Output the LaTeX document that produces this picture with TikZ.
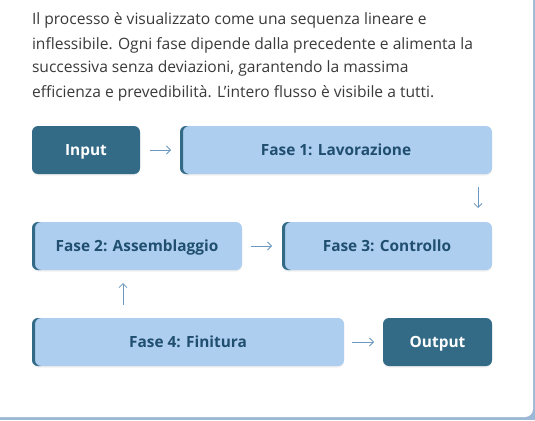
\documentclass[tikz,border=0pt]{standalone}
\usepackage{fontspec}
\setmainfont{Open Sans}
\definecolor{darkc}{HTML}{336B87}
\definecolor{lightc}{HTML}{AECEF0}
\definecolor{ltext}{HTML}{1F4E6E}
\definecolor{arrc}{HTML}{6A98C0}
\definecolor{paratext}{HTML}{3A3A3A}
\definecolor{bgc}{HTML}{9DB8D6}
\usetikzlibrary{arrows.meta,shadows}
\tikzset{
  every node/.style={inner sep=0pt, outer sep=0pt},
  softshadow/.style={drop shadow={opacity=0.12, shadow xshift=0pt, shadow yshift=-1.5pt}},
  darkbox/.style={rounded corners=6pt, fill=darkc, text=white, minimum height=48pt,
    text height=12pt, text depth=1pt, softshadow,
    font=\fontsize{15.4}{18}\selectfont\bfseries},
  lightbox/.style={rounded corners=6pt, fill=lightc, text=ltext, minimum height=48pt,
    text height=12pt, text depth=1pt, softshadow,
    font=\fontsize{15.4}{18}\selectfont\bfseries,
    path picture={
      \fill[darkc, sharp corners]
        ([shift={(-2pt,-2pt)}]path picture bounding box.south west)
        -- ([shift={(9pt,-2pt)}]path picture bounding box.south west)
        -- ([xshift=9pt]path picture bounding box.south west)
        arc[start angle=270, end angle=180, radius=6pt]
        -- ([shift={(3pt,-6pt)}]path picture bounding box.north west)
        arc[start angle=180, end angle=90, radius=6pt]
        -- ([shift={(9pt,2pt)}]path picture bounding box.north west)
        -- ([shift={(-2pt,2pt)}]path picture bounding box.north west)
        -- cycle;}},
  arr/.style={draw=arrc, line width=0.8pt, -{Straight Barb[length=4pt,width=8pt]}},
  para/.style={anchor=base west, text=paratext, font=\fontsize{15.6}{18}\selectfont}
}
\begin{document}
\begin{tikzpicture}[x=1pt,y=-1pt]
\useasboundingbox (0,0) rectangle (535,420);
\fill[bgc] (0,0) rectangle (535,420);
\begin{scope}
\clip (0,0) rectangle (535,420);
\fill[white, rounded corners=8pt] (-20,-20) rectangle (533,417);
\end{scope}
\node[para] (p1) at (32,25) {Il processo è visualizzato come una sequenza lineare e};
\node[para] (p2) at (32,49) {inflessibile. Ogni fase dipende dalla precedente e alimenta la};
\node[para] (p3) at (32,73) {successiva senza deviazioni, garantendo la massima};
\node[para] (p4) at (32,97) {efficienza e prevedibilità. L'intero flusso è visibile a tutti.};

\node[darkbox, minimum width=108pt] (in) at (86,150) {Input};
\node[lightbox, minimum width=312pt] (f1) at (336,150) {Fase 1: Lavorazione};
\node[lightbox, minimum width=210pt] (f2) at (137,246) {Fase 2: Assemblaggio};
\node[lightbox, minimum width=210pt] (f3) at (387,246) {Fase 3: Controllo};
\node[lightbox, minimum width=312pt] (f4) at (188,342) {Fase 4: Finitura};
\node[darkbox, minimum width=109pt] (out) at (437.5,342) {Output};

\draw[arr] ([xshift=10pt]in.east) -- ([xshift=-9pt]f1.west);
\draw[arr] ([xshift=-14pt,yshift=-13pt]f1.south east) -- ([xshift=-14pt,yshift=14pt]f3.north east);
\draw[arr] ([xshift=9pt]f2.east) -- ([xshift=-10pt]f3.west);
\draw[arr] ([xshift=91pt,yshift=13pt]f4.north west) -- ([xshift=91pt,yshift=-13pt]f2.south west);
\draw[arr] ([xshift=8pt]f4.east) -- ([xshift=-9pt]out.west);
\end{tikzpicture}
\end{document}
